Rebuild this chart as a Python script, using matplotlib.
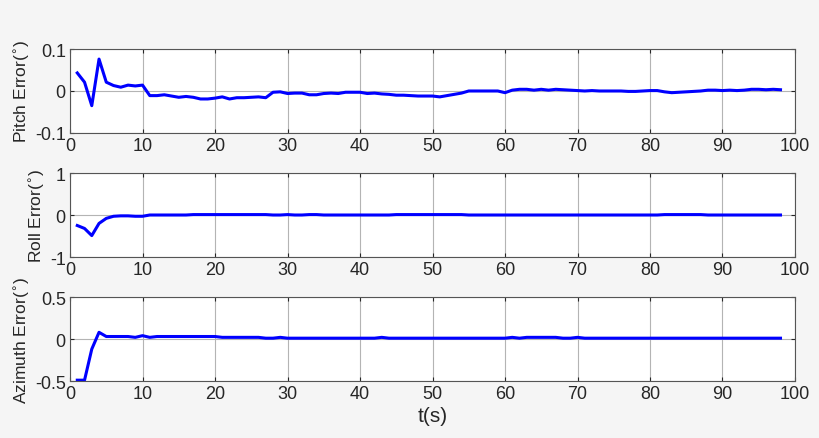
import numpy as np
import matplotlib
matplotlib.use('Agg')
import matplotlib.pyplot as plt

plt.rcParams['font.family'] = ['Liberation Sans', 'DejaVu Sans']
plt.rcParams['axes.unicode_minus'] = False

t = np.arange(1, 99)

pitch = [0.043, 0.021, -0.035, 0.076, 0.021, 0.013, 0.009, 0.014, 0.012, 0.014,
         -0.011, -0.011, -0.009, -0.012, -0.015, -0.013, -0.015, -0.019, -0.019, -0.017,
         -0.014, -0.019, -0.016, -0.016, -0.015, -0.014, -0.016, -0.003, -0.002, -0.006,
         -0.005, -0.005, -0.009, -0.009, -0.006, -0.005, -0.006, -0.003, -0.003, -0.003,
         -0.006, -0.005, -0.007, -0.008, -0.010, -0.010, -0.011, -0.012, -0.012, -0.012,
         -0.014, -0.011, -0.008, -0.005, 0.000, 0.000, 0.000, 0.000, 0.000, -0.004,
         0.002, 0.004, 0.004, 0.002, 0.004, 0.002, 0.004, 0.003, 0.002, 0.001,
         0.000, 0.001, 0.000, 0.000, 0.000, 0.000, -0.001, -0.001, 0.000, 0.001,
         0.001, -0.002, -0.004, -0.003, -0.002, -0.001, 0.000, 0.002, 0.002, 0.001,
         0.002, 0.001, 0.002, 0.004, 0.004, 0.003, 0.004, 0.003]

roll = [-0.25, -0.32, -0.49, -0.20, -0.08, -0.03, -0.02, -0.02, -0.03, -0.03,
        0.00, 0.00, 0.00, 0.00, 0.00, 0.00, 0.01, 0.01, 0.01, 0.01,
        0.01, 0.01, 0.01, 0.01, 0.01, 0.01, 0.01, 0.00, 0.00, 0.01,
        0.00, 0.00, 0.01, 0.01, 0.00, 0.00, 0.00, 0.00, 0.00, 0.00,
        0.00, 0.00, 0.00, 0.00, 0.01, 0.01, 0.01, 0.01, 0.01, 0.01,
        0.01, 0.01, 0.01, 0.01, 0.00, 0.00, 0.00, 0.00, 0.00, 0.00,
        0.00, 0.00, 0.00, 0.00, 0.00, 0.00, 0.00, 0.00, 0.00, 0.00,
        0.00, 0.00, 0.00, 0.00, 0.00, 0.00, 0.00, 0.00, 0.00, 0.00,
        0.00, 0.01, 0.01, 0.01, 0.01, 0.01, 0.01, 0.00, 0.00, 0.00,
        0.00, 0.00, 0.00, 0.00, 0.00, 0.00, 0.00, 0.00]

azimuth = [-0.49, -0.49, -0.12, 0.08, 0.03, 0.03, 0.03, 0.03, 0.02, 0.04,
           0.02, 0.03, 0.03, 0.03, 0.03, 0.03, 0.03, 0.03, 0.03, 0.03,
           0.02, 0.02, 0.02, 0.02, 0.02, 0.02, 0.01, 0.01, 0.02, 0.01,
           0.01, 0.01, 0.01, 0.01, 0.01, 0.01, 0.01, 0.01, 0.01, 0.01,
           0.01, 0.01, 0.02, 0.01, 0.01, 0.01, 0.01, 0.01, 0.01, 0.01,
           0.01, 0.01, 0.01, 0.01, 0.01, 0.01, 0.01, 0.01, 0.01, 0.01,
           0.02, 0.01, 0.02, 0.02, 0.02, 0.02, 0.02, 0.01, 0.01, 0.02,
           0.01, 0.01, 0.01, 0.01, 0.01, 0.01, 0.01, 0.01, 0.01, 0.01,
           0.01, 0.01, 0.01, 0.01, 0.01, 0.01, 0.01, 0.01, 0.01, 0.01,
           0.01, 0.01, 0.01, 0.01, 0.01, 0.01, 0.01, 0.01]

ylabels = ['Pitch Error($^{\\circ}$)', 'Roll Error($^{\\circ}$)', 'Azimuth Error($^{\\circ}$)']
yticks = [[-0.1, 0, 0.1], [-1, 0, 1], [-0.5, 0, 0.5]]
yticklabels = [['-0.1', '0', '0.1'], ['-1', '0', '1'], ['-0.5', '0', '0.5']]
xticks = [0, 10, 20, 30, 40, 50, 60, 70, 80, 90, 100]

fig = plt.figure(figsize=(8.2, 4.39), dpi=100)
fig.patch.set_facecolor('#f5f5f5')

bottoms = [0.6948, 0.4123, 0.1298]
series = [pitch, roll, azimuth]

for i in range(3):
    ax = fig.add_axes([0.0854, bottoms[i], 0.8841, 0.1913])
    ax.plot(t, series[i], color='#0000ff', lw=2.2)
    ax.set_xlim(0, 100)
    ax.set_ylim(yticks[i][0], yticks[i][-1])
    ax.set_xticks(xticks)
    ax.set_yticks(yticks[i])
    ax.set_yticklabels(yticklabels[i])
    ax.grid(True, color='#b4b4b4', lw=0.8)
    ax.tick_params(direction='in', top=True, right=True, length=3,
                   labelsize=13, colors='#262626', pad=3)
    for s in ax.spines.values():
        s.set_color('#555555')
        s.set_linewidth(0.8)
    ax.set_ylabel(ylabels[i], fontsize=12.5, color='#262626', labelpad=2)
    if i == 2:
        ax.set_xlabel('t(s)', fontsize=15, color='#262626', labelpad=3)

fig.savefig('out.png', dpi=100, facecolor=fig.get_facecolor())
